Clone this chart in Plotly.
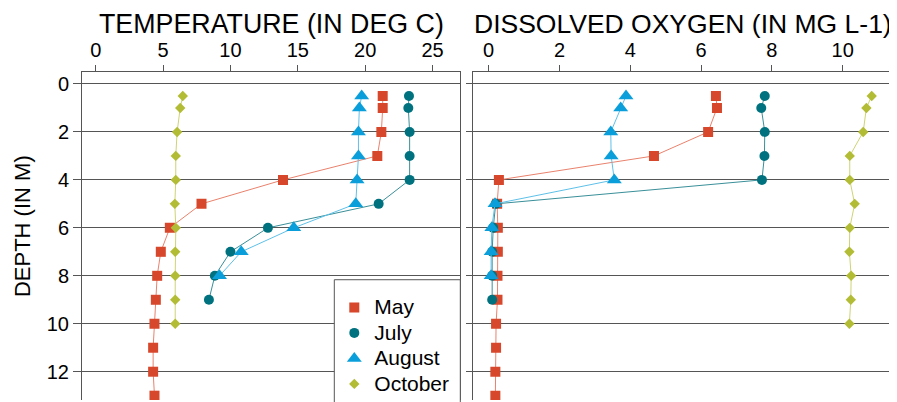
import plotly.graph_objects as go

# ---- data ----
depth_may = [0.5, 1, 2, 3, 4, 5, 6, 7, 8, 9, 10, 11, 12, 13]
depth_jul = [0.5, 1, 2, 3, 4, 5, 6, 7, 8, 9]
depth_aug = [0.5, 1, 2, 3, 4, 5, 6, 7, 8]
depth_oct = [0.5, 1, 2, 3, 4, 5, 6, 7, 8, 9, 10]

temp_may = [21.3, 21.3, 21.2, 20.9, 13.9, 7.85, 5.5, 4.83, 4.56, 4.46, 4.36, 4.26, 4.26, 4.36]
temp_jul = [23.25, 23.2, 23.3, 23.3, 23.3, 21.0, 12.78, 10.0, 8.84, 8.4]
temp_aug = [19.74, 19.57, 19.5, 19.5, 19.4, 19.3, 14.7, 10.8, 9.19]
temp_oct = [6.46, 6.27, 6.04, 5.94, 5.94, 5.87, 5.94, 5.9, 5.9, 5.9, 5.9]

do_may = [6.42, 6.45, 6.2, 4.67, 0.29, 0.24, 0.26, 0.26, 0.25, 0.25, 0.21, 0.21, 0.19, 0.19]
do_jul = [7.8, 7.7, 7.8, 7.79, 7.72, 0.2, 0.13, 0.1, 0.1, 0.1]
do_aug = [3.88, 3.73, 3.45, 3.46, 3.55, 0.18, 0.09, 0.07, 0.07]
do_oct = [10.82, 10.67, 10.58, 10.2, 10.2, 10.34, 10.2, 10.19, 10.24, 10.23, 10.19]

months = ["May", "July", "August", "October"]
temp_ticks = [0, 5, 10, 15, 20, 25]
do_ticks = [0, 2, 4, 6, 8, 10]
depth_ticks = [0, 2, 4, 6, 8, 10, 12]

titles = ["TEMPERATURE (IN DEG C)", "DISSOLVED OXYGEN (IN MG L-1)"]
ytitle = "DEPTH (IN M)"

# ---- styles ----
mcol = ["#D7472B", "#00727F", "#0A9FDB", "#B3BC35"]
lcol = ["#E9826D", "#3A8F99", "#5EC0E8", "#CDD473"]
symbols = ["square", "circle", "triangle-up", "diamond"]
msizes = [10, 10, 13, 8]
FONT = "Liberation Sans, Arial, sans-serif"

# the page body has an 8px margin: build the figure 8px smaller and offset
OFF = 8
W, H = 897 - OFF, 402 - OFF
ML, MR, MT, MB = 82 - OFF, 3, 72 - OFF, 0
PW = W - ML - MR
PH = H - MT - MB


def px_x(p):
    return (p - OFF - ML) / PW


def px_y(p):
    return (H - MB - (p - OFF)) / PH


fig = go.Figure()

temps = [temp_may, temp_jul, temp_aug, temp_oct]
dos = [do_may, do_jul, do_aug, do_oct]
depths = [depth_may, depth_jul, depth_aug, depth_oct]

for i in range(4):
    common = dict(mode="lines+markers", showlegend=False,
                  line=dict(color=lcol[i], width=1),
                  marker=dict(color=mcol[i], symbol=symbols[i], size=msizes[i],
                              line=dict(width=0)))
    fig.add_trace(go.Scatter(x=temps[i], y=depths[i], xaxis="x", yaxis="y", **common))
    fig.add_trace(go.Scatter(x=dos[i], y=depths[i], xaxis="x2", yaxis="y2", **common))

for i in range(4):
    fig.add_trace(go.Scatter(x=[None], y=[None], mode="markers",
                             name='<span style="font-size:21px">%s</span>' % months[i],
                             marker=dict(color=mcol[i], symbol=symbols[i], size=msizes[i],
                                         line=dict(width=0)),
                             xaxis="x", yaxis="y", showlegend=True))

d1 = [0, px_x(460.3)]
d2 = [px_x(472.7), 1]
yr = [13.18, -0.5]
axcol = "#555555"
gridcol = "#555555"

xcommon = dict(side="top", showline=True, linecolor=axcol, linewidth=1,
               ticks="outside", ticklen=6, tickcolor=axcol, showgrid=False,
               zeroline=False, automargin=False,
               tickfont=dict(size=20, color="black", family=FONT))
ycommon = dict(range=yr, tickvals=depth_ticks, showline=True, mirror=True,
               linecolor=axcol, linewidth=1, ticks="outside", tickcolor=axcol,
               showgrid=True, gridcolor=gridcol, gridwidth=1, zeroline=False,
               automargin=False,
               tickfont=dict(size=20, color="black", family=FONT))

fig.update_layout(
    width=W, height=H,
    margin=dict(l=ML, r=MR, t=MT, b=MB, pad=0),
    paper_bgcolor="white", plot_bgcolor="white",
    font=dict(family=FONT, color="black"),
    xaxis=dict(domain=d1, range=[-1.02, 27.06], tickvals=temp_ticks, anchor="y", **xcommon),
    xaxis2=dict(domain=d2, range=[-0.45, 11.45], tickvals=do_ticks, anchor="y2", **xcommon),
    yaxis=dict(anchor="x", ticklen=8, **ycommon),
    yaxis2=dict(anchor="x2", ticklen=6, showticklabels=False, **ycommon),
    legend=dict(x=px_x(334.3), y=px_y(291), xanchor="left", yanchor="top",
                bgcolor="rgba(0,0,0,0)", borderwidth=0,
                font=dict(size=17.3, color="black", family=FONT),
                tracegroupgap=0),
    showlegend=True,
)

fig.add_shape(type="rect", xref="paper", yref="paper",
              x0=px_x(334.3), x1=px_x(460.3), y0=-0.2, y1=px_y(281),
              fillcolor="white", line=dict(color=axcol, width=1), layer="above")

fig.add_annotation(text=titles[0], xref="paper", yref="paper",
                   x=(d1[0] + d1[1]) / 2, y=px_y(24), xanchor="center", yanchor="middle",
                   showarrow=False, font=dict(size=26.8, color="black", family=FONT))
fig.add_annotation(text=titles[1], xref="paper", yref="paper",
                   x=(d2[0] + d2[1]) / 2, y=px_y(24), xanchor="center", yanchor="middle",
                   showarrow=False, font=dict(size=26.5, color="black", family=FONT))
fig.add_annotation(text=ytitle, xref="paper", yref="paper",
                   x=px_x(22), y=px_y(227), xanchor="center", yanchor="middle",
                   textangle=-90, showarrow=False,
                   font=dict(size=22, color="black", family=FONT))

fig.write_html("out.html")
